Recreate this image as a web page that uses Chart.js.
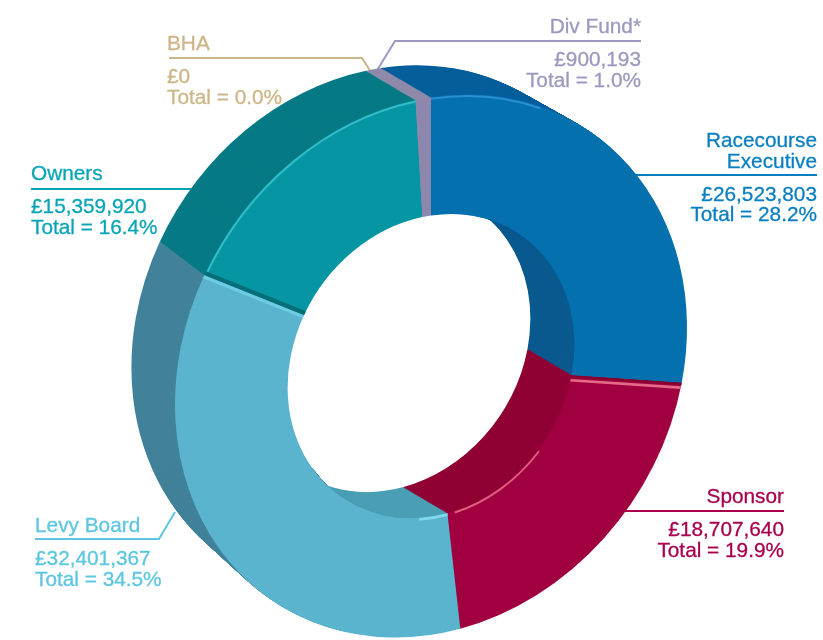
<!DOCTYPE html>
<html>
<head>
<meta charset="utf-8">
<title>Funding</title>
<script src="https://cdn.jsdelivr.net/npm/chart.js@4/dist/chart.umd.min.js"></script>
<style>
    html, body { margin: 0; padding: 0; background: #fff; }
    #wrap { position: relative; width: 823px; height: 640px; overflow: hidden; }
    #leaders { position: absolute; left: 0; top: 0; }
    #leaders polyline { fill: none; stroke-width: 2; }
    #wrap canvas { position: absolute; left: 0; top: 0; }
    .lbl {
        position: absolute;
        font-family: "Liberation Sans", Arial, sans-serif;
        font-size: 20.8px;
        line-height: 20.5px;
        white-space: nowrap;
        -webkit-text-stroke: 0.3px;
    }
    .lbl div { height: 20.5px; }
    .lbl .gap { height: 12.5px; }
    .right { text-align: right; }
</style>
</head>
<body>
<div id="wrap">
    <svg id="leaders" width="823" height="640"></svg>
    <canvas id="fundChart" width="823" height="640"></canvas>
</div>
<script>
// data
var categories = ['Racecourse Executive', 'Sponsor', 'Levy Board', 'Owners', 'BHA', 'Div Fund*'];
var amounts = [26523803, 18707640, 32401367, 15359920, 0, 900193];
var percents = ['28.2', '19.9', '34.5', '16.4', '0.0', '1.0'];

// colours, same order as categories
var faceColors = ['#0470ae', '#a10040', '#5ab4cd', '#0595a3', '#cdb587', '#8d87ad'];
var sideColors = ['#065f9c', '#8f0035', '#42829a', '#067a85', '#b09a70', '#8f8aaa'];
var wallColors = ['#0a5a8f', '#900034', '#4b9fb5', '#067a85', '#b09a70', '#8f8aaa'];
var textColors = ['#0a7fc0', '#a8004f', '#5cc6e0', '#0aa5b5', '#cdb587', '#9c98bf'];

// label boxes: title lines on top, then rule, then amount and percent
var labelPos = [
    { right: 6, top: 130, title: ['Racecourse', 'Executive'] },
    { right: 39, top: 486, title: ['Sponsor'] },
    { left: 35, top: 515, title: ['Levy Board'] },
    { left: 31, top: 163, title: ['Owners'] },
    { left: 167, top: 33, title: ['BHA'] },
    { right: 182, top: 16, title: ['Div Fund*'] }
];
var leaderPoints = [
    '625,175 817,175',
    '615,511 784,511',
    '35,539 159,539 175,512',
    '31,189 205,189',
    '169,58 362,58 371,72',
    '641,41 395,41 376,72'
];

// highlight and shadow lines on the front face
var edgeLines = [
    { slice: 3, type: 'outer', from: 0, to: 1, color: '#35bcc9', width: 2 },
    { slice: 0, type: 'outer', from: 0, to: 0.25, color: '#2a8fd0', width: 2 },
    { slice: 1, type: 'inner', from: 0.42, to: 0.96, color: '#e0607f', width: 2 },
    { slice: 2, type: 'inner', from: 0, to: 0.09, color: '#7fd8ee', width: 2.5 },
    { slice: 1, type: 'radial', offset: 1, color: '#87002f', width: 2.5 },
    { slice: 1, type: 'radial', offset: 4.5, color: '#e56a88', width: 2.5 },
    { slice: 3, type: 'radial', offset: 2, color: '#066e78', width: 4 },
    { slice: 3, type: 'radial', offset: -1.5, color: '#6dcbe3', width: 3 }
];

// the ring is seen at an angle: a tilted ellipse pushed back up and to the left,
// the far outer edge a little smaller than the front one
var outerDepth = { x: -50, y: -36, scale: 0.975 };
var innerDepth = { x: -44, y: -26, scale: 1 };
var stretchY = 1.05;
var tiltY = -0.15;

function money(n) {
    return '£' + n.toLocaleString('en-GB');
}

function applyTilt(ctx, a, dx, dy, scale) {
    ctx.translate(a.x + dx, a.y + dy);
    ctx.transform(scale, tiltY * scale, 0, stretchY * scale, 0, 0);
    ctx.translate(-a.x, -a.y);
}

function arcsOf(chart) {
    return chart.getDatasetMeta(0).data.map(function (el) {
        return el.getProps(['x', 'y', 'startAngle', 'endAngle', 'innerRadius', 'outerRadius'], true);
    });
}

function slicePath(ctx, a) {
    ctx.beginPath();
    ctx.arc(a.x, a.y, a.outerRadius, a.startAngle, a.endAngle);
    ctx.arc(a.x, a.y, a.innerRadius, a.endAngle, a.startAngle, true);
    ctx.closePath();
}

function drawExtrusion(ctx, arcs, colors, depth) {
    var steps = 60;
    for (var s = steps; s >= 1; s--) {
        var f = s / steps;
        ctx.save();
        applyTilt(ctx, arcs[0], depth.x * f, depth.y * f, 1 + (depth.scale - 1) * f);
        for (var i = 0; i < arcs.length; i++) {
            if (arcs[i].endAngle - arcs[i].startAngle <= 0) continue;
            slicePath(ctx, arcs[i]);
            ctx.fillStyle = colors[i];
            ctx.fill();
        }
        ctx.restore();
    }
}

function holePath(ctx, a, withPage) {
    ctx.save();
    applyTilt(ctx, a, 0, 0, 1);
    ctx.beginPath();
    if (withPage) ctx.rect(-3000, -3000, 6000, 6000);
    ctx.arc(a.x, a.y, a.innerRadius, 0, Math.PI * 2);
    ctx.restore();
}

function drawEdges(ctx, arcs) {
    edgeLines.forEach(function (e) {
        var a = arcs[e.slice];
        var span = a.endAngle - a.startAngle;
        ctx.beginPath();
        if (e.type === 'radial') {
            var c = Math.cos(a.startAngle);
            var s = Math.sin(a.startAngle);
            var ox = -s * e.offset;
            var oy = c * e.offset;
            ctx.moveTo(a.x + c * a.innerRadius + ox, a.y + s * a.innerRadius + oy);
            ctx.lineTo(a.x + c * a.outerRadius + ox, a.y + s * a.outerRadius + oy);
        } else {
            var r = e.type === 'outer' ? a.outerRadius - 1.5 : a.innerRadius + 1.5;
            ctx.arc(a.x, a.y, r, a.startAngle + span * e.from, a.startAngle + span * e.to);
        }
        ctx.strokeStyle = e.color;
        ctx.lineWidth = e.width;
        ctx.stroke();
    });
}

// gives the flat doughnut its thick look, using the arcs chart.js worked out
var depthPlugin = {
    id: 'depth',
    beforeDatasetsDraw: function (chart) {
        var ctx = chart.ctx;
        var arcs = arcsOf(chart);
        // outer side, everywhere but the hole
        ctx.save();
        holePath(ctx, arcs[0], true);
        ctx.clip('evenodd');
        drawExtrusion(ctx, arcs, sideColors, outerDepth);
        ctx.restore();
        // inner wall, only through the hole
        ctx.save();
        holePath(ctx, arcs[0], false);
        ctx.clip();
        drawExtrusion(ctx, arcs, wallColors, innerDepth);
        ctx.restore();
        // left open until afterDatasetsDraw so the front face gets the same tilt
        ctx.save();
        applyTilt(ctx, arcs[0], 0, 0, 1);
    },
    afterDatasetsDraw: function (chart) {
        var ctx = chart.ctx;
        drawEdges(ctx, arcsOf(chart));
        ctx.restore();
    }
};

function addLabels() {
    var wrap = document.getElementById('wrap');
    var svg = document.getElementById('leaders');
    categories.forEach(function (name, i) {
        var p = labelPos[i];
        var box = document.createElement('div');
        box.className = 'lbl' + (p.right !== undefined ? ' right' : '');
        box.style.color = textColors[i];
        box.style.top = p.top + 'px';
        if (p.right !== undefined) box.style.right = p.right + 'px';
        else box.style.left = p.left + 'px';
        var rows = p.title.concat(['', money(amounts[i]), 'Total = ' + percents[i] + '%']);
        rows.forEach(function (txt) {
            var row = document.createElement('div');
            if (txt === '') row.className = 'gap';
            else row.textContent = txt;
            box.appendChild(row);
        });
        wrap.appendChild(box);

        var line = document.createElementNS('http://www.w3.org/2000/svg', 'polyline');
        line.setAttribute('points', leaderPoints[i]);
        line.setAttribute('stroke', textColors[i]);
        svg.appendChild(line);
    });
}

var ctx = document.getElementById('fundChart').getContext('2d');
var chart = new Chart(ctx, {
    type: 'doughnut',
    data: {
        labels: categories,
        datasets: [{
            data: amounts,
            backgroundColor: faceColors,
            borderWidth: 0
        }]
    },
    options: {
        responsive: false,
        animation: false,
        cutout: '56%',
        layout: { padding: { left: 175, right: 136, top: 110, bottom: 18 } },
        plugins: { legend: { display: false }, tooltip: { enabled: false } }
    },
    plugins: [depthPlugin]
});

addLabels();
</script>
</body>
</html>
